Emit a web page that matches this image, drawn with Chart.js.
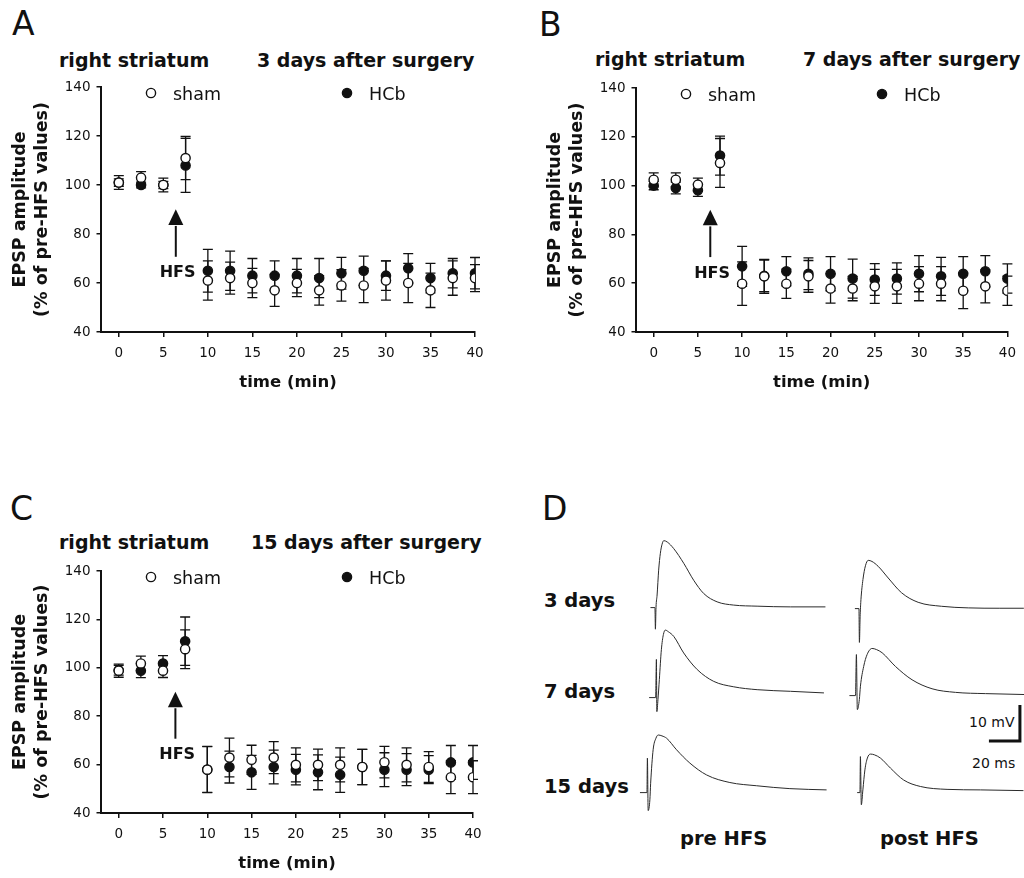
<!DOCTYPE html>
<html>
<head>
<meta charset="utf-8">
<script src="https://cdn.jsdelivr.net/npm/chart.js@4.4.1/dist/chart.umd.min.js"></script>
<style>
  html, body { margin: 0; padding: 0; background: #fff; }
  body { width: 1024px; height: 878px; position: relative; overflow: hidden;
         font-family: 'DejaVu Sans', sans-serif; color: #111; }
  .t { position: absolute; line-height: 1; white-space: nowrap; }
  .letter { font-size: 33px; }
  .head { font-size: 19px; font-weight: bold; }
  .row { font-size: 19.5px; font-weight: bold; }
  .bar { font-size: 14px; }
  canvas { position: absolute; }
</style>
</head>
<body>
<div class="t letter" style="left:12px;top:7px">A</div>
<div class="t letter" style="left:539px;top:8px">B</div>
<div class="t letter" style="left:10px;top:492px">C</div>
<div class="t letter" style="left:542px;top:492px">D</div>

<div class="t head" style="left:59px;top:51px">right striatum</div>
<div class="t head" style="left:257px;top:51px">3 days after surgery</div>
<div class="t head" style="left:595px;top:50px">right striatum</div>
<div class="t head" style="left:803px;top:50px">7 days after surgery</div>
<div class="t head" style="left:59px;top:533px">right striatum</div>
<div class="t head" style="left:251px;top:533px">15 days after surgery</div>

<div class="t row" style="left:544px;top:591px">3 days</div>
<div class="t row" style="left:544px;top:682px">7 days</div>
<div class="t row" style="left:544px;top:777px">15 days</div>
<div class="t row" style="left:680px;top:829px">pre HFS</div>
<div class="t row" style="left:880px;top:829px">post HFS</div>
<div class="t bar" style="left:969px;top:715px">10 mV</div>
<div class="t bar" style="left:972px;top:756px">20 ms</div>

<canvas id="chartA"></canvas>
<canvas id="chartB"></canvas>
<canvas id="chartC"></canvas>
<canvas id="pre3"></canvas>
<canvas id="pre7"></canvas>
<canvas id="pre15"></canvas>
<canvas id="post3"></canvas>
<canvas id="post7"></canvas>
<canvas id="post15"></canvas>

<script>
// time points (min), same for all three panels
const times = [0, 2.5, 5, 7.5, 10, 12.5, 15, 17.5, 20, 22.5, 25, 27.5, 30, 32.5, 35, 37.5, 40];

// A: 3 days after surgery
const shamA    = [101, 103, 100, 111, 61, 62, 60, 57, 60, 57, 59, 59, 61, 60, 57, 62, 62];
const shamAErr = [2.8, 2.5, 2.8, 8.8, 8, 6.5, 6, 6.5, 5.6, 6, 6.4, 7, 8, 8, 7, 7, 5.5];
const hcbA     = [101, 100, 100, 108, 65, 65, 63, 63, 63, 62, 64, 65, 63, 66, 62, 64, 64];
const hcbAErr  = [1.5, 1.2, 1.5, 11, 8.7, 8, 7, 6, 7, 8, 6.5, 6, 6, 6, 6, 6, 6.4];

// B: 7 days after surgery
const shamB    = [102.4, 102.4, 100.4, 109.3, 59.8, 62.8, 59.8, 62.8, 57.8, 57.8, 58.7, 58.7, 59.8, 59.8, 56.9, 58.7, 56.9];
const shamBErr = [2.8, 2.8, 2.7, 10, 8.9, 7, 6, 6.5, 6, 5, 7, 7, 7, 7, 7.3, 6.8, 6];
const hcbB     = [100, 99, 98.1, 112.3, 66.9, 63, 64.9, 63.9, 63.9, 61.9, 61.5, 61.9, 63.9, 62.8, 63.9, 64.9, 61.9];
const hcbBErr  = [1.7, 2.4, 2.5, 8, 8.2, 6.5, 6, 6.5, 7, 8, 6.5, 6.4, 7.4, 7.8, 7, 6.4, 6];

// C: 15 days after surgery
const shamC    = [98.8, 101.8, 98.8, 107.7, 57.9, 62.9, 62, 62.9, 59.9, 59.9, 59.9, 59, 61, 59.9, 59, 54.8, 54.8];
const shamCErr = [2.7, 3, 2.8, 8, 9.5, 8, 6, 6.6, 7, 6.5, 7, 7.3, 6.5, 7, 6.4, 6.8, 6.8];
const hcbC     = [99, 98.8, 101.8, 111, 58, 59, 56.8, 59, 57.9, 56.8, 55.8, 59, 57.9, 57.9, 57.9, 60.9, 60.9];
const hcbCErr  = [2, 2.9, 3.2, 10, 9.5, 6.6, 7, 7, 6.3, 7.2, 7.3, 7.3, 7, 6.6, 5.8, 7, 7];

const xTicks = [0, 5, 10, 15, 20, 25, 30, 35, 40];
const yTicks = [40, 60, 80, 100, 120, 140];

// D: sample EPSP traces, time (ms) from stimulus and voltage (mV) from baseline
const pre3T  = [-3.2, -0.3, 0, 0.4, 1.1, 2.1, 3.2, 4.3, 5.4, 7.7, 11.8, 18.3, 24.7, 31.2, 39.8, 50.5, 65.6, 87.1, 109.7];
const pre3V  = [0, 0, -6.0, 0.1, 3.5, 10.4, 15.1, 17.6, 18.6, 18.2, 16.4, 12.3, 7.6, 3.9, 1.6, 0.7, 0.4, 0.2, 0.2];
const pre7T  = [-4.7, -0.5, 0, 0.3, 1.0, 1.9, 3.2, 4.5, 5.8, 7.7, 11.2, 17.6, 26.3, 37.0, 49.9, 65.0, 86.5, 108.1];
const pre7V  = [0, 0, 10.6, -3.9, -0.6, 5.0, 13.3, 17.5, 18.75, 18.3, 17.0, 12.4, 7.8, 4.5, 3.0, 2.2, 1.75, 1.3];
const pre15T = [-4.8, -0.3, 0, 0.5, 1.6, 2.1, 3.7, 5.5, 7.0, 9.4, 12.4, 18.8, 27.4, 38.2, 53.2, 70.5, 91.9, 115.6];
const pre15V = [0, 0, 9.6, -5.0, -2.0, 2.6, 11.9, 15.1, 16.0, 15.75, 15.1, 11.9, 8.2, 4.9, 2.8, 1.9, 1.1, 0.75];
const post3T  = [-2.9, -0.3, 0, 0.5, 1.0, 2.3, 3.9, 5.7, 8.1, 12.1, 18.6, 27.2, 37.9, 53.0, 70.2, 90.6, 106.1];
const post3V  = [0, 0, -9.4, -1.7, 2.5, 8.1, 11.9, 13.4, 13.1, 11.75, 8.5, 4.4, 1.75, 0.64, 0.2, 0.1, 0.1];
const post7T  = [-4.5, -0.6, 0, 0.6, 1.9, 2.6, 4.7, 6.9, 10.1, 12.9, 16.6, 25.2, 35.9, 48.8, 63.9, 83.2, 108.4];
const post7V  = [0, 0, 11.4, -3.9, -1.1, 2.6, 8.1, 11.4, 13.1, 12.8, 11.9, 8.1, 4.4, 1.9, 0.9, 0.55, 0.3];
const post15T = [-2.1, -0.3, 0, 0.6, 1.6, 2.9, 4.5, 6.5, 9.0, 12.9, 19.4, 27.9, 38.7, 55.9, 77.4, 105.2];
const post15V = [0, 0, 10, -3.4, 0.75, 6.3, 9.6, 10.7, 10.5, 9.6, 6.8, 3.5, 1.7, 0.9, 0.75, 0.55];

const scaleBarMs = 20;
const scaleBarMv = 10;

Chart.defaults.font.family = "'DejaVu Sans', sans-serif";
Chart.defaults.color = '#111';
Chart.defaults.animation = false;

const INK = '#111';

function toPoints(xs, ys) {
  return xs.map((x, i) => ({ x: x, y: ys[i] }));
}

// vertical SEM bars with caps, drawn under the markers
const errorBars = {
  id: 'errorBars',
  beforeDatasetsDraw(chart) {
    const { ctx, scales: { x, y } } = chart;
    ctx.save();
    ctx.strokeStyle = INK;
    ctx.lineWidth = 1.3;
    chart.data.datasets.forEach(ds => {
      if (!ds.errors) return;
      ds.data.forEach((p, k) => {
        const e = ds.errors[k];
        const px = x.getPixelForValue(p.x);
        const hi = y.getPixelForValue(p.y + e);
        const lo = y.getPixelForValue(p.y - e);
        ctx.beginPath();
        ctx.moveTo(px, hi); ctx.lineTo(px, lo);
        ctx.moveTo(px - 5, hi); ctx.lineTo(px + 5, hi);
        ctx.moveTo(px - 5, lo); ctx.lineTo(px + 5, lo);
        ctx.stroke();
      });
    });
    ctx.restore();
  }
};

// legend in the top of the plot + the HFS arrow
const panelDecor = {
  id: 'panelDecor',
  afterDraw(chart) {
    const { ctx, chartArea: a, scales: { x, y } } = chart;
    ctx.save();
    // legend
    const spots = [50, 246];
    chart.data.datasets.forEach((ds, i) => {
      const mx = a.left + spots[i], my = a.top + 6;
      ctx.beginPath();
      ctx.arc(mx, my, ds.pointRadius, 0, Math.PI * 2);
      ctx.fillStyle = ds.pointBackgroundColor;
      ctx.fill();
      ctx.lineWidth = ds.pointBorderWidth;
      ctx.strokeStyle = ds.pointBorderColor;
      ctx.stroke();
      ctx.fillStyle = INK;
      ctx.font = "17.5px 'DejaVu Sans'";
      ctx.textAlign = 'left';
      ctx.textBaseline = 'alphabetic';
      ctx.fillText(ds.label, mx + 22, a.top + 12.5);
    });
    // HFS arrow
    const ax = x.getPixelForValue(6.4);
    const tail = y.getPixelForValue(70.7);
    const base = y.getPixelForValue(83.7);
    const tip = y.getPixelForValue(90.1);
    ctx.strokeStyle = INK;
    ctx.lineWidth = 2;
    ctx.beginPath();
    ctx.moveTo(ax, tail); ctx.lineTo(ax, base + 1);
    ctx.stroke();
    ctx.fillStyle = INK;
    ctx.beginPath();
    ctx.moveTo(ax, tip); ctx.lineTo(ax - 7.5, base); ctx.lineTo(ax + 7.5, base);
    ctx.closePath();
    ctx.fill();
    ctx.font = "bold 16px 'DejaVu Sans'";
    ctx.textAlign = 'center';
    ctx.fillText('HFS', x.getPixelForValue(6.6), y.getPixelForValue(62.3));
    ctx.restore();
  }
};

const Y_AXIS_W = 101, PAD_TOP = 17, X_AXIS_H = 68;

function makePanel(id, area, sham, shamErr, hcb, hcbErr) {
  const cv = document.getElementById(id);
  const left = area.left - Y_AXIS_W, top = area.top - PAD_TOP;
  cv.width = area.canvasRight - left;
  cv.height = PAD_TOP + (area.bottom - area.top) + X_AXIS_H;
  cv.style.left = left + 'px';
  cv.style.top = top + 'px';
  new Chart(cv, {
    type: 'scatter',
    data: {
      datasets: [
        { label: 'sham', data: toPoints(times, sham), errors: shamErr,
          pointRadius: 4.6, pointBackgroundColor: '#fff', pointBorderColor: INK, pointBorderWidth: 1.4 },
        { label: 'HCb', data: toPoints(times, hcb), errors: hcbErr,
          pointRadius: 4.6, pointBackgroundColor: INK, pointBorderColor: INK, pointBorderWidth: 1.4 }
      ]
    },
    options: {
      responsive: false,
      events: [],
      layout: { padding: { top: PAD_TOP, right: area.canvasRight - area.right, left: 0, bottom: 0 } },
      plugins: { legend: { display: false }, tooltip: { enabled: false } },
      scales: {
        x: {
          type: 'linear', min: -2, max: 40,
          afterFit(s) { s.height = X_AXIS_H; },
          afterBuildTicks(s) { s.ticks = xTicks.map(v => ({ value: v })); },
          ticks: { font: { size: 13.5 }, color: INK, padding: 8, maxRotation: 0 },
          grid: { drawOnChartArea: false, drawTicks: true, tickLength: 5, color: INK, lineWidth: 1.5 },
          border: { display: true, color: INK, width: 2 },
          title: { display: true, text: 'time (min)', color: INK,
                   font: { size: 16.5, weight: 'bold' }, padding: { top: 4, bottom: 7 } }
        },
        y: {
          min: 40, max: 140,
          afterFit(s) { s.width = Y_AXIS_W; },
          afterBuildTicks(s) { s.ticks = yTicks.map(v => ({ value: v })); },
          ticks: { font: { size: 13.5 }, color: INK, padding: 6 },
          grid: { drawOnChartArea: false, drawTicks: true, tickLength: 4.5, color: INK, lineWidth: 1.5 },
          border: { display: true, color: INK, width: 2 },
          title: { display: true, text: ['EPSP amplitude', '(% of pre-HFS values)'], color: INK,
                   font: { size: 17.5, weight: 'bold', lineHeight: 1.3 }, padding: { top: 8.6, bottom: 0 } }
        }
      }
    },
    plugins: [errorBars, panelDecor]
  });
}

makePanel('chartA', { left: 101, top: 87, right: 475, bottom: 332, canvasRight: 512 }, shamA, shamAErr, hcbA, hcbAErr);
makePanel('chartB', { left: 636, top: 88, right: 1010, bottom: 332, canvasRight: 1024 }, shamB, shamBErr, hcbB, hcbBErr);
makePanel('chartC', { left: 101, top: 571, right: 473, bottom: 813, canvasRight: 512 }, shamC, shamCErr, hcbC, hcbCErr);

// ---- panel D traces ----
const PX_PER_MS = 1.55, PX_PER_MV = 3.6;
const T_MIN = -8, V_MIN = -14;
const TRACE_W = 202, TRACE_H = 144;

const scaleBar = {
  id: 'scaleBar',
  afterDraw(chart, args, opts) {
    if (!opts.show) return;
    const { ctx, scales: { x, y } } = chart;
    const cx = x.getPixelForValue(opts.t), cy = y.getPixelForValue(opts.v);
    const w = cx - x.getPixelForValue(opts.t - scaleBarMs);
    const h = cy - y.getPixelForValue(opts.v + scaleBarMv);
    ctx.save();
    ctx.strokeStyle = INK;
    ctx.lineWidth = 3;
    ctx.lineJoin = 'miter';
    ctx.beginPath();
    ctx.moveTo(cx - w, cy); ctx.lineTo(cx, cy); ctx.lineTo(cx, cy - h);
    ctx.stroke();
    ctx.restore();
  }
};

function makeTrace(id, ts, vs, stimX, baseY, bar) {
  const cv = document.getElementById(id);
  cv.width = TRACE_W;
  cv.height = TRACE_H;
  const vMax = V_MIN + TRACE_H / PX_PER_MV;
  cv.style.left = Math.round(stimX + T_MIN * PX_PER_MS) + 'px';
  cv.style.top = Math.round(baseY - vMax * PX_PER_MV) + 'px';
  new Chart(cv, {
    type: 'scatter',
    data: {
      datasets: [{
        data: toPoints(ts, vs), showLine: true, pointRadius: 0,
        borderColor: '#2a2a2a', borderWidth: 1, cubicInterpolationMode: 'monotone'
      }]
    },
    options: {
      responsive: false,
      events: [],
      layout: { padding: 0 },
      plugins: { legend: { display: false }, tooltip: { enabled: false },
                 scaleBar: bar || { show: false } },
      scales: {
        x: { type: 'linear', display: false, min: T_MIN, max: T_MIN + TRACE_W / PX_PER_MS },
        y: { display: false, min: V_MIN, max: vMax }
      }
    },
    plugins: [scaleBar]
  });
}

makeTrace('pre3', pre3T, pre3V, 655, 607.5);
makeTrace('pre7', pre7T, pre7V, 656, 698);
makeTrace('pre15', pre15T, pre15V, 647.5, 792.7);
makeTrace('post3', post3T, post3V, 859.5, 609);
makeTrace('post7', post7T, post7V, 856, 696, { show: true, t: 105.5, v: -12.6 });
makeTrace('post15', post15T, post15V, 860, 792.7);
</script>
</body>
</html>
